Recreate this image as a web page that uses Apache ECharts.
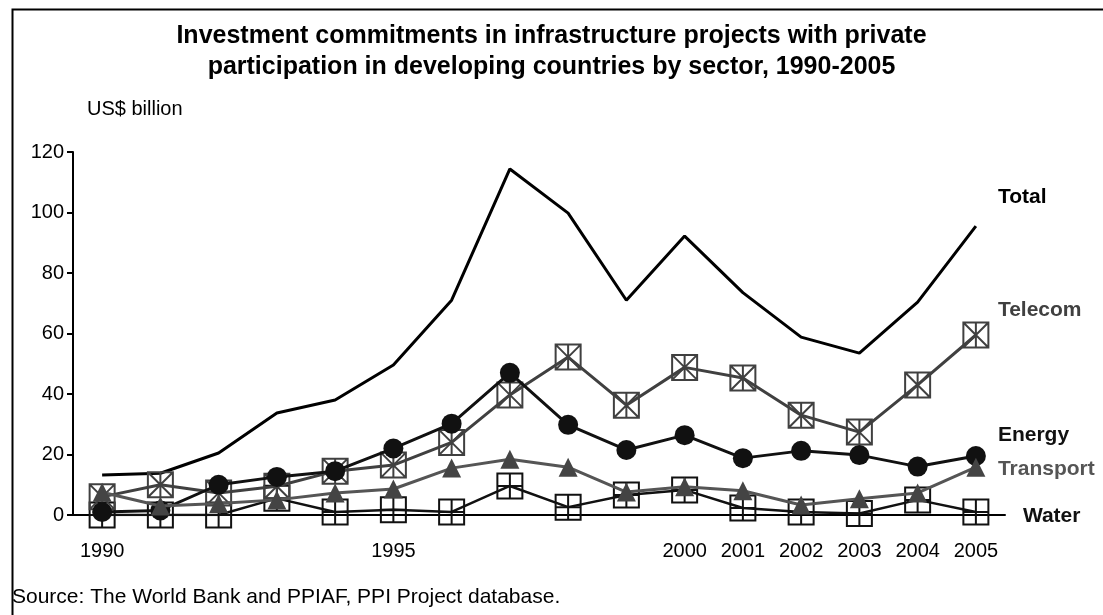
<!DOCTYPE html>
<html>
<head>
<meta charset="utf-8">
<script src="https://cdn.jsdelivr.net/npm/echarts@6/dist/echarts.min.js"></script>
<style>
  html, body { margin: 0; padding: 0; background: #fff; }
  #chart { width: 1103px; height: 615px; }
</style>
</head>
<body>
<div id="chart"></div>
<script>
const years = ["1990", "1991", "1992", "1993", "1994", "1995", "1996", "1997",
               "1998", "1999", "2000", "2001", "2002", "2003", "2004", "2005"]
const shownYears = ["1990", "1995", "2000", "2001", "2002", "2003", "2004", "2005"]
const yTicks = [0, 20, 40, 60, 80, 100, 120]

const total     = [13.2, 13.8, 20.5, 33.7, 38, 49.6, 71, 114.4, 99.8, 71, 92.2, 73.5, 58.8, 53.5, 70.4, 95.5]
const telecom   = [6, 10, 7.3, 9.5, 14.5, 16.5, 24, 39.7, 52.2, 36.3, 48.8, 45.3, 33, 27.4, 43, 59.5]
const energy    = [1, 1.5, 10, 12.6, 14.5, 22, 30.2, 47, 29.8, 21.5, 26.4, 18.8, 21.2, 19.8, 16, 19.5]
const transport = [7.5, 3, 3.8, 5, 7.3, 8.6, 15.5, 18.4, 15.8, 7.6, 9.3, 8, 3.3, 5.4, 7.3, 15.8]
const water     = [0, 0, 0, 5.5, 1, 1.7, 1, 9.6, 2.6, 6.6, 8.3, 2.3, 1, 0.5, 5, 1]

const FONT = "Liberation Sans, Arial, sans-serif"

// square with an asterisk, square with a cross
const boxStar = "path://M0,0H10V10H0Z M0,0L10,10 M10,0L0,10 M5,0V10"
const boxPlus = "path://M0,0H10V10H0Z M5,0V10 M0,5H10"

function endLabel(text, color, dx, dy) {
    return {
        show: true,
        formatter: text,
        color: color,
        fontFamily: FONT,
        fontSize: 21,
        fontWeight: "bold",
        distance: 0,
        align: "left",
        verticalAlign: "middle",
        offset: [dx, dy]
    }
}

const chart = echarts.init(document.getElementById("chart"), null, {renderer: "canvas"})

chart.setOption({
    animation: false,
    backgroundColor: "#fff",
    title: {
        text: "Investment commitments in infrastructure projects with private\nparticipation in developing countries by sector, 1990-2005",
        left: "center",
        top: 16,
        textStyle: {fontFamily: FONT, fontSize: 25, fontWeight: "bold", color: "#000", lineHeight: 31}
    },
    graphic: [
        {type: "rect", left: 10, top: 7, shape: {width: 1110, height: 640},
         style: {fill: "none", stroke: "#000", lineWidth: 2}, z: -1},
        {type: "text", left: 87, top: 99,
         style: {text: "US$ billion", fontFamily: FONT, fontSize: 20, fill: "#000"}},
        {type: "text", left: 12, top: 587,
         style: {text: "Source: The World Bank and PPIAF, PPI Project database.", fontFamily: FONT, fontSize: 21, fill: "#000"}}
    ],
    grid: {left: 73, right: 98, top: 152, bottom: 100},
    xAxis: {
        type: "category",
        data: years,
        boundaryGap: true,
        axisLine: {lineStyle: {color: "#000", width: 2}},
        axisTick: {show: false},
        axisLabel: {
            interval: (i, v) => shownYears.includes(v),
            fontFamily: FONT, fontSize: 20, color: "#000", margin: 26
        }
    },
    yAxis: {
        type: "value",
        min: yTicks[0],
        max: yTicks[yTicks.length - 1],
        interval: 20,
        splitLine: {show: false},
        axisLine: {show: true, lineStyle: {color: "#000", width: 2}},
        axisTick: {show: true, length: 6, lineStyle: {color: "#000", width: 2}},
        axisLabel: {fontFamily: FONT, fontSize: 20, color: "#000", margin: 9}
    },
    series: [
        {
            name: "Total", type: "line", data: total,
            showSymbol: false, symbol: "none",
            lineStyle: {color: "#000", width: 3},
            endLabel: endLabel("Total", "#000", 22, -29),
            z: 2
        },
        {
            name: "Water", type: "line", data: water,
            symbol: boxPlus, symbolSize: 25,
            lineStyle: {color: "#111", width: 2.5},
            itemStyle: {color: "rgba(0,0,0,0)", borderColor: "#111", borderWidth: 2},
            endLabel: endLabel("Water", "#111", 47, 4),
            z: 3
        },
        {
            name: "Telecom", type: "line", data: telecom,
            symbol: boxStar, symbolSize: 25,
            lineStyle: {color: "#404040", width: 3},
            itemStyle: {color: "rgba(0,0,0,0)", borderColor: "#404040", borderWidth: 2},
            endLabel: endLabel("Telecom", "#404040", 22, -25),
            z: 4
        },
        {
            name: "Energy", type: "line", data: energy,
            symbol: "circle", symbolSize: 20,
            lineStyle: {color: "#111", width: 3},
            itemStyle: {color: "#111"},
            endLabel: endLabel("Energy", "#111", 22, -21),
            z: 5
        },
        {
            name: "Transport", type: "line", data: transport,
            symbol: "triangle", symbolSize: 19,
            lineStyle: {color: "#555", width: 3},
            itemStyle: {color: "#444"},
            endLabel: endLabel("Transport", "#555", 22, 2),
            z: 6
        }
    ]
})
</script>
</body>
</html>
